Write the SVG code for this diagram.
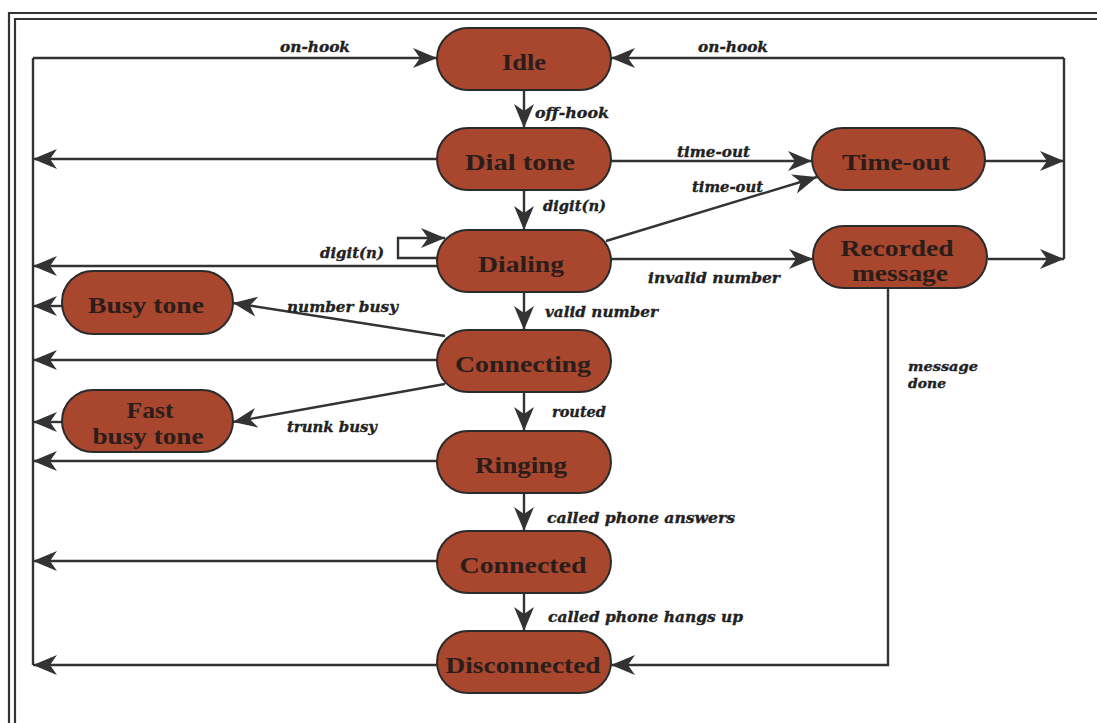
<svg xmlns="http://www.w3.org/2000/svg" width="1097" height="723" viewBox="0 0 1097 723">
  <style>
    .frame { fill: none; stroke: #333; stroke-width: 2.2; }
    .wire { fill: none; stroke: #333; stroke-width: 2.4; }
    .arrow { marker-end: url(#head); }
    .state rect { fill: #a8462e; stroke: #2b2b2b; stroke-width: 2; }
    .state text { font-family: "Liberation Serif", "Times New Roman", serif; font-weight: bold; font-size: 24px; fill: #2a1d1a; text-anchor: middle; }
    .lbl { font-family: "DejaVu Serif", "Liberation Serif", serif; font-weight: bold; font-style: italic; font-size: 15px; fill: #222; stroke: #222; stroke-width: 0.35; }
    .lbl.small { font-size: 13px; }
  </style>
  <defs>
    <marker id="head" viewBox="-25 -11 26 22" markerWidth="26" markerHeight="22" refX="0" refY="0" orient="auto" markerUnits="userSpaceOnUse">
      <path d="M0,0 L-24,-10 L-17,0 L-24,10 Z" fill="#333"/>
    </marker>
  </defs>

  <rect width="1097" height="723" fill="#fff"/>

  <!-- double page frame (top and left edges) -->
  <g id="frame">
    <path class="frame" d="M9,723 V13 H1097"/>
    <path class="frame" d="M15,723 V19 H1097"/>
  </g>

  <!-- transitions -->
  <g id="connectors">
    <!-- left on-hook bus -->
    <path class="wire" d="M33,665 V58"/>
    <path class="wire arrow" d="M33,58 H437"/>
    <path class="wire arrow" d="M437,159 H33"/>
    <path class="wire arrow" d="M439,266 H33"/>
    <path class="wire arrow" d="M62,306 H33"/>
    <path class="wire arrow" d="M437,360 H33"/>
    <path class="wire arrow" d="M62,422 H33"/>
    <path class="wire arrow" d="M437,461 H33"/>
    <path class="wire arrow" d="M437,561 H33"/>
    <path class="wire arrow" d="M437,665 H33"/>

    <!-- right on-hook bus -->
    <path class="wire arrow" d="M1064,58 H611"/>
    <path class="wire" d="M1064,58 V259"/>
    <path class="wire arrow" d="M985,161 H1064"/>
    <path class="wire arrow" d="M988,259 H1064"/>

    <!-- main sequence -->
    <path class="wire arrow" d="M524,90 V128"/>
    <path class="wire arrow" d="M524,190 V230"/>
    <path class="wire arrow" d="M524,292 V330"/>
    <path class="wire arrow" d="M524,392 V431"/>
    <path class="wire arrow" d="M524,493 V531"/>
    <path class="wire arrow" d="M524,593 V631"/>

    <!-- branches -->
    <path class="wire arrow" d="M611,161 H812"/>
    <path class="wire arrow" d="M606,241 L817,177"/>
    <path class="wire arrow" d="M611,259 H813"/>
    <path class="wire arrow" d="M888,288 V665 H611"/>
    <path class="wire arrow" d="M445,336 L233,303"/>
    <path class="wire arrow" d="M445,384 L233,422"/>

    <!-- digit(n) self loop on Dialing -->
    <path class="wire arrow" d="M440,258 H398 V238 H445"/>

    <!-- transition labels -->
    <text class="lbl" x="280" y="52" textLength="70" lengthAdjust="spacingAndGlyphs">on-hook</text>
    <text class="lbl" x="698" y="52" textLength="70" lengthAdjust="spacingAndGlyphs">on-hook</text>
    <text class="lbl" x="535" y="118" textLength="74" lengthAdjust="spacingAndGlyphs">off-hook</text>
    <text class="lbl" x="543" y="211" textLength="63" lengthAdjust="spacingAndGlyphs">digit(n)</text>
    <text class="lbl" x="677" y="157" textLength="73" lengthAdjust="spacingAndGlyphs">time-out</text>
    <text class="lbl" x="692" y="192" textLength="71" lengthAdjust="spacingAndGlyphs">time-out</text>
    <text class="lbl" x="648" y="283" textLength="132" lengthAdjust="spacingAndGlyphs">invalid number</text>
    <text class="lbl" x="320" y="258" textLength="64" lengthAdjust="spacingAndGlyphs">digit(n)</text>
    <text class="lbl" x="545" y="317" textLength="113" lengthAdjust="spacingAndGlyphs">valid number</text>
    <text class="lbl" x="287" y="312" textLength="111" lengthAdjust="spacingAndGlyphs">number busy</text>
    <text class="lbl" x="287" y="432" textLength="90" lengthAdjust="spacingAndGlyphs">trunk busy</text>
    <text class="lbl" x="552" y="417" textLength="54" lengthAdjust="spacingAndGlyphs">routed</text>
    <text class="lbl" x="547" y="523" textLength="188" lengthAdjust="spacingAndGlyphs">called phone answers</text>
    <text class="lbl" x="548" y="622" textLength="195" lengthAdjust="spacingAndGlyphs">called phone hangs up</text>
    <text class="lbl small" x="908" y="371" textLength="70" lengthAdjust="spacingAndGlyphs">message</text>
    <text class="lbl small" x="908" y="388" textLength="38" lengthAdjust="spacingAndGlyphs">done</text>
  </g>

  <!-- states -->
  <g id="idle" class="state">
    <rect x="437" y="28" width="174" height="62" rx="31"/>
    <text x="524" y="70" textLength="44" lengthAdjust="spacingAndGlyphs">Idle</text>
  </g>
  <g id="dial-tone" class="state">
    <rect x="437" y="128" width="174" height="62" rx="31"/>
    <text x="520" y="170" textLength="110" lengthAdjust="spacingAndGlyphs">Dial tone</text>
  </g>
  <g id="dialing" class="state">
    <rect x="437" y="230" width="174" height="62" rx="31"/>
    <text x="521" y="272" textLength="86" lengthAdjust="spacingAndGlyphs">Dialing</text>
  </g>
  <g id="connecting" class="state">
    <rect x="437" y="330" width="174" height="62" rx="31"/>
    <text x="523" y="372" textLength="136" lengthAdjust="spacingAndGlyphs">Connecting</text>
  </g>
  <g id="ringing" class="state">
    <rect x="437" y="431" width="174" height="62" rx="31"/>
    <text x="521" y="473" textLength="92" lengthAdjust="spacingAndGlyphs">Ringing</text>
  </g>
  <g id="connected" class="state">
    <rect x="437" y="531" width="174" height="62" rx="31"/>
    <text x="523" y="573" textLength="127" lengthAdjust="spacingAndGlyphs">Connected</text>
  </g>
  <g id="disconnected" class="state">
    <rect x="437" y="631" width="174" height="62" rx="31"/>
    <text x="523" y="673" textLength="155" lengthAdjust="spacingAndGlyphs">Disconnected</text>
  </g>
  <g id="time-out" class="state">
    <rect x="812" y="128" width="173" height="62" rx="31"/>
    <text x="896" y="170" textLength="108" lengthAdjust="spacingAndGlyphs">Time-out</text>
  </g>
  <g id="recorded-message" class="state">
    <rect x="813" y="226" width="174" height="62" rx="31"/>
    <text x="897" y="256" textLength="113" lengthAdjust="spacingAndGlyphs">Recorded</text>
    <text x="900" y="281" textLength="96" lengthAdjust="spacingAndGlyphs">message</text>
  </g>
  <g id="busy-tone" class="state">
    <rect x="62" y="271" width="171" height="63" rx="31"/>
    <text x="146" y="313" textLength="116" lengthAdjust="spacingAndGlyphs">Busy tone</text>
  </g>
  <g id="fast-busy-tone" class="state">
    <rect x="62" y="390" width="171" height="62" rx="31"/>
    <text x="150" y="418" textLength="47" lengthAdjust="spacingAndGlyphs">Fast</text>
    <text x="148" y="444" textLength="111" lengthAdjust="spacingAndGlyphs">busy tone</text>
  </g>
</svg>
